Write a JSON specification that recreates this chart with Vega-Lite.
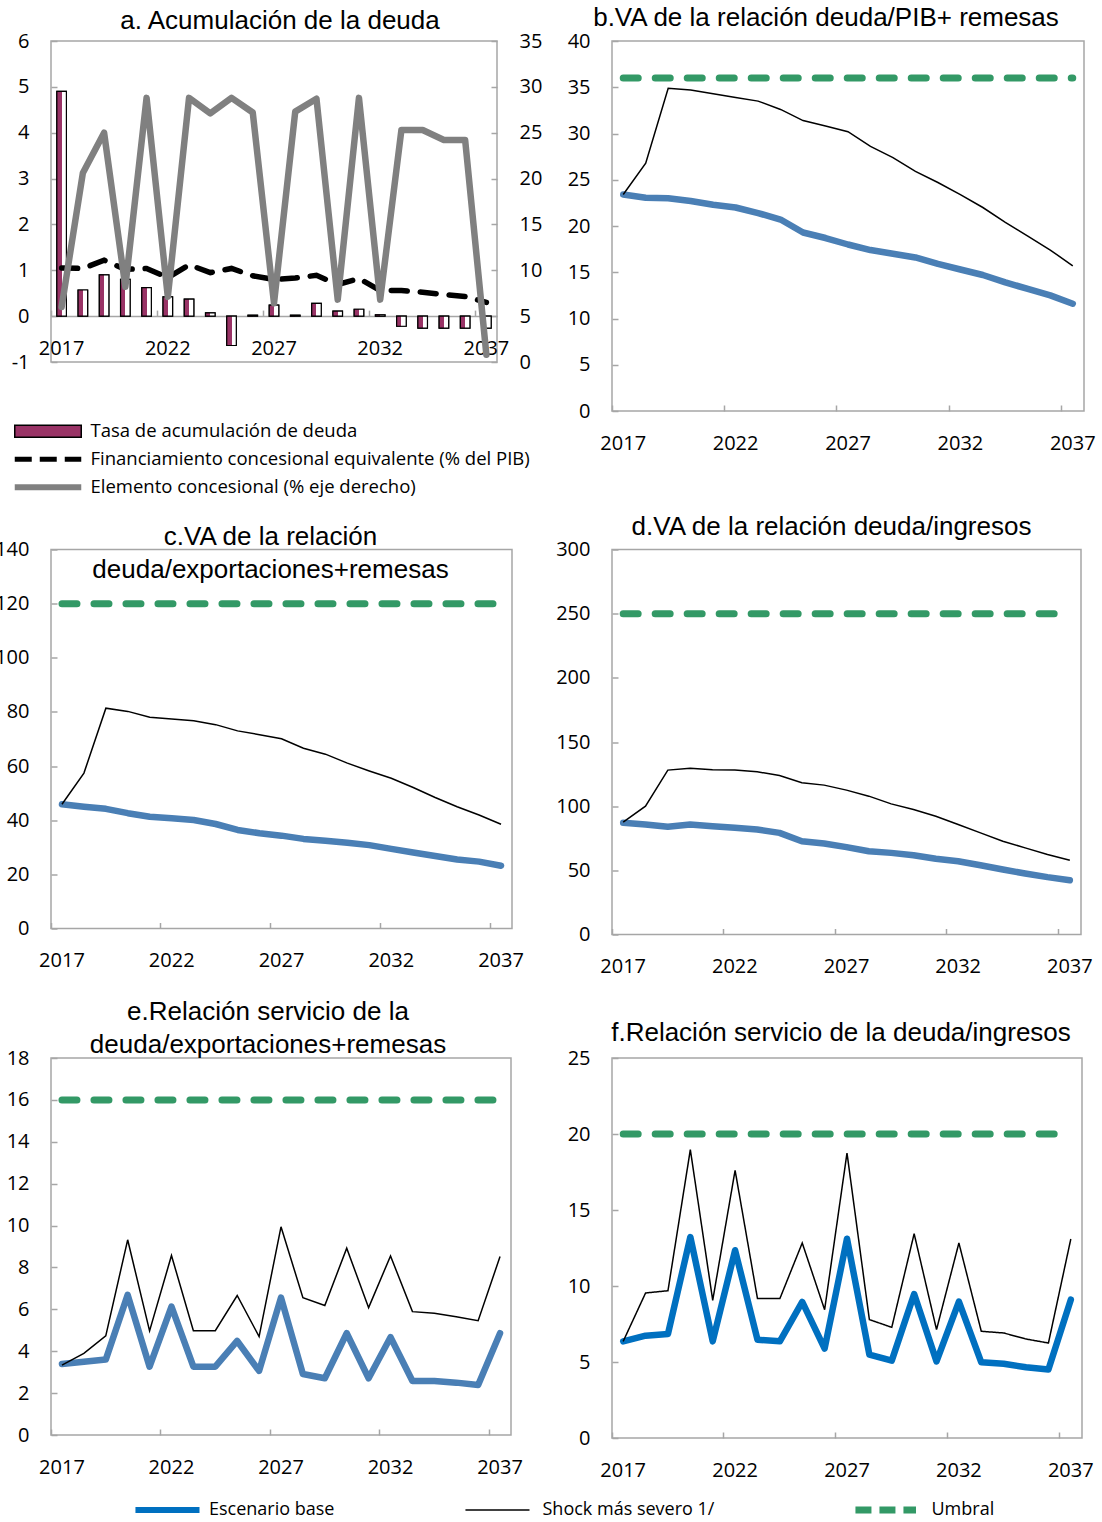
{
  "$schema": "https://vega.github.io/schema/vega-lite/v6.json",
  "background": "white",
  "padding": {"left": -7, "top": 4, "right": 0, "bottom": 0},
  "datasets": {
    "a": [
      {"year": "2017", "tasa": 4.9, "fin": 1.05, "elem": 6.0},
      {"year": "2018", "tasa": 0.57, "fin": 1.04, "elem": 20.6},
      {"year": "2019", "tasa": 0.9, "fin": 1.22, "elem": 25.0},
      {"year": "2020", "tasa": 0.8, "fin": 1.02, "elem": 8.2},
      {"year": "2021", "tasa": 0.62, "fin": 1.04, "elem": 28.8},
      {"year": "2022", "tasa": 0.42, "fin": 0.84, "elem": 7.1},
      {"year": "2023", "tasa": 0.37, "fin": 1.12, "elem": 28.8},
      {"year": "2024", "tasa": 0.07, "fin": 0.95, "elem": 27.1},
      {"year": "2025", "tasa": -0.64, "fin": 1.04, "elem": 28.8},
      {"year": "2026", "tasa": 0.02, "fin": 0.88, "elem": 27.2},
      {"year": "2027", "tasa": 0.24, "fin": 0.8, "elem": 6.4},
      {"year": "2028", "tasa": 0.02, "fin": 0.83, "elem": 27.3},
      {"year": "2029", "tasa": 0.28, "fin": 0.89, "elem": 28.7},
      {"year": "2030", "tasa": 0.11, "fin": 0.69, "elem": 6.8},
      {"year": "2031", "tasa": 0.15, "fin": 0.82, "elem": 28.8},
      {"year": "2032", "tasa": 0.03, "fin": 0.56, "elem": 6.8},
      {"year": "2033", "tasa": -0.22, "fin": 0.56, "elem": 25.3},
      {"year": "2034", "tasa": -0.26, "fin": 0.52, "elem": 25.3},
      {"year": "2035", "tasa": -0.26, "fin": 0.47, "elem": 24.2},
      {"year": "2036", "tasa": -0.26, "fin": 0.43, "elem": 24.2},
      {"year": "2037", "tasa": -0.26, "fin": 0.3, "elem": 0.8}
    ],
    "b": [
      {"year": "2017", "base": 23.4, "shock": 23.4, "umbral": 36},
      {"year": "2018", "base": 23.06, "shock": 26.8, "umbral": 36},
      {"year": "2019", "base": 23.0, "shock": 34.9, "umbral": 36},
      {"year": "2020", "base": 22.7, "shock": 34.7, "umbral": 36},
      {"year": "2021", "base": 22.3, "shock": 34.3, "umbral": 36},
      {"year": "2022", "base": 22.0, "shock": 33.9, "umbral": 36},
      {"year": "2023", "base": 21.4, "shock": 33.5, "umbral": 36},
      {"year": "2024", "base": 20.7, "shock": 32.6, "umbral": 36},
      {"year": "2025", "base": 19.3, "shock": 31.4, "umbral": 36},
      {"year": "2026", "base": 18.7, "shock": 30.8, "umbral": 36},
      {"year": "2027", "base": 18.0, "shock": 30.2, "umbral": 36},
      {"year": "2028", "base": 17.4, "shock": 28.6, "umbral": 36},
      {"year": "2029", "base": 17.0, "shock": 27.4, "umbral": 36},
      {"year": "2030", "base": 16.6, "shock": 25.9, "umbral": 36},
      {"year": "2031", "base": 15.9, "shock": 24.7, "umbral": 36},
      {"year": "2032", "base": 15.3, "shock": 23.4, "umbral": 36},
      {"year": "2033", "base": 14.7, "shock": 22.0, "umbral": 36},
      {"year": "2034", "base": 13.9, "shock": 20.4, "umbral": 36},
      {"year": "2035", "base": 13.2, "shock": 18.9, "umbral": 36},
      {"year": "2036", "base": 12.5, "shock": 17.4, "umbral": 36},
      {"year": "2037", "base": 11.6, "shock": 15.7, "umbral": 36}
    ],
    "c": [
      {"year": "2017", "base": 45.9, "shock": 45.9, "umbral": 120},
      {"year": "2018", "base": 45.0, "shock": 57.4, "umbral": 120},
      {"year": "2019", "base": 44.2, "shock": 81.4, "umbral": 120},
      {"year": "2020", "base": 42.6, "shock": 80.2, "umbral": 120},
      {"year": "2021", "base": 41.3, "shock": 78.0, "umbral": 120},
      {"year": "2022", "base": 40.7, "shock": 77.4, "umbral": 120},
      {"year": "2023", "base": 40.1, "shock": 76.7, "umbral": 120},
      {"year": "2024", "base": 38.6, "shock": 75.3, "umbral": 120},
      {"year": "2025", "base": 36.4, "shock": 73.0, "umbral": 120},
      {"year": "2026", "base": 35.2, "shock": 71.6, "umbral": 120},
      {"year": "2027", "base": 34.3, "shock": 70.1, "umbral": 120},
      {"year": "2028", "base": 33.1, "shock": 66.6, "umbral": 120},
      {"year": "2029", "base": 32.4, "shock": 64.4, "umbral": 120},
      {"year": "2030", "base": 31.7, "shock": 61.1, "umbral": 120},
      {"year": "2031", "base": 30.8, "shock": 58.2, "umbral": 120},
      {"year": "2032", "base": 29.4, "shock": 55.5, "umbral": 120},
      {"year": "2033", "base": 28.1, "shock": 52.1, "umbral": 120},
      {"year": "2034", "base": 26.8, "shock": 48.4, "umbral": 120},
      {"year": "2035", "base": 25.5, "shock": 45.0, "umbral": 120},
      {"year": "2036", "base": 24.7, "shock": 41.9, "umbral": 120},
      {"year": "2037", "base": 23.2, "shock": 38.5, "umbral": 120}
    ],
    "d": [
      {"year": "2017", "base": 87.0, "shock": 87.5, "umbral": 250},
      {"year": "2018", "base": 85.7, "shock": 100.0, "umbral": 250},
      {"year": "2019", "base": 83.9, "shock": 128.1, "umbral": 250},
      {"year": "2020", "base": 85.7, "shock": 129.6, "umbral": 250},
      {"year": "2021", "base": 84.4, "shock": 128.3, "umbral": 250},
      {"year": "2022", "base": 83.1, "shock": 128.1, "umbral": 250},
      {"year": "2023", "base": 81.8, "shock": 126.8, "umbral": 250},
      {"year": "2024", "base": 79.2, "shock": 123.9, "umbral": 250},
      {"year": "2025", "base": 72.7, "shock": 118.2, "umbral": 250},
      {"year": "2026", "base": 70.9, "shock": 116.4, "umbral": 250},
      {"year": "2027", "base": 68.1, "shock": 112.5, "umbral": 250},
      {"year": "2028", "base": 64.9, "shock": 107.8, "umbral": 250},
      {"year": "2029", "base": 63.6, "shock": 101.8, "umbral": 250},
      {"year": "2030", "base": 61.8, "shock": 97.4, "umbral": 250},
      {"year": "2031", "base": 59.0, "shock": 92.2, "umbral": 250},
      {"year": "2032", "base": 57.1, "shock": 85.7, "umbral": 250},
      {"year": "2033", "base": 54.0, "shock": 79.2, "umbral": 250},
      {"year": "2034", "base": 50.6, "shock": 72.7, "umbral": 250},
      {"year": "2035", "base": 47.5, "shock": 67.5, "umbral": 250},
      {"year": "2036", "base": 44.7, "shock": 62.3, "umbral": 250},
      {"year": "2037", "base": 42.3, "shock": 57.9, "umbral": 250}
    ],
    "e": [
      {"year": "2017", "base": 3.39, "shock": 3.34, "umbral": 16},
      {"year": "2018", "base": 3.5, "shock": 3.9, "umbral": 16},
      {"year": "2019", "base": 3.6, "shock": 4.73, "umbral": 16},
      {"year": "2020", "base": 6.69, "shock": 9.32, "umbral": 16},
      {"year": "2021", "base": 3.26, "shock": 4.97, "umbral": 16},
      {"year": "2022", "base": 6.13, "shock": 8.57, "umbral": 16},
      {"year": "2023", "base": 3.26, "shock": 4.98, "umbral": 16},
      {"year": "2024", "base": 3.26, "shock": 4.98, "umbral": 16},
      {"year": "2025", "base": 4.49, "shock": 6.66, "umbral": 16},
      {"year": "2026", "base": 3.06, "shock": 4.7, "umbral": 16},
      {"year": "2027", "base": 6.56, "shock": 9.94, "umbral": 16},
      {"year": "2028", "base": 2.91, "shock": 6.56, "umbral": 16},
      {"year": "2029", "base": 2.71, "shock": 6.18, "umbral": 16},
      {"year": "2030", "base": 4.86, "shock": 8.92, "umbral": 16},
      {"year": "2031", "base": 2.71, "shock": 6.08, "umbral": 16},
      {"year": "2032", "base": 4.67, "shock": 8.55, "umbral": 16},
      {"year": "2033", "base": 2.58, "shock": 5.89, "umbral": 16},
      {"year": "2034", "base": 2.58, "shock": 5.81, "umbral": 16},
      {"year": "2035", "base": 2.5, "shock": 5.65, "umbral": 16},
      {"year": "2036", "base": 2.39, "shock": 5.46, "umbral": 16},
      {"year": "2037", "base": 4.86, "shock": 8.52, "umbral": 16}
    ],
    "f": [
      {"year": "2017", "base": 6.36, "shock": 6.36, "umbral": 20},
      {"year": "2018", "base": 6.73, "shock": 9.54, "umbral": 20},
      {"year": "2019", "base": 6.84, "shock": 9.69, "umbral": 20},
      {"year": "2020", "base": 13.22, "shock": 18.97, "umbral": 20},
      {"year": "2021", "base": 6.36, "shock": 9.06, "umbral": 20},
      {"year": "2022", "base": 12.35, "shock": 17.61, "umbral": 20},
      {"year": "2023", "base": 6.47, "shock": 9.17, "umbral": 20},
      {"year": "2024", "base": 6.36, "shock": 9.17, "umbral": 20},
      {"year": "2025", "base": 8.95, "shock": 12.83, "umbral": 20},
      {"year": "2026", "base": 5.88, "shock": 8.44, "umbral": 20},
      {"year": "2027", "base": 13.11, "shock": 18.75, "umbral": 20},
      {"year": "2028", "base": 5.48, "shock": 7.79, "umbral": 20},
      {"year": "2029", "base": 5.09, "shock": 7.28, "umbral": 20},
      {"year": "2030", "base": 9.47, "shock": 13.44, "umbral": 20},
      {"year": "2031", "base": 5.04, "shock": 7.13, "umbral": 20},
      {"year": "2032", "base": 8.97, "shock": 12.83, "umbral": 20},
      {"year": "2033", "base": 4.98, "shock": 7.02, "umbral": 20},
      {"year": "2034", "base": 4.89, "shock": 6.91, "umbral": 20},
      {"year": "2035", "base": 4.65, "shock": 6.51, "umbral": 20},
      {"year": "2036", "base": 4.5, "shock": 6.25, "umbral": 20},
      {"year": "2037", "base": 9.1, "shock": 13.09, "umbral": 20}
    ]
  },
  "columns": 2,
  "bounds": "flush",
  "align": "all",
  "spacing": {"row": 123.5, "column": 89},
  "resolve": {
    "scale": {"color": "independent", "fill": "independent", "stroke": "independent", "strokeDash": "independent", "opacity": "independent"},
    "legend": {"color": "independent", "fill": "independent", "stroke": "independent", "strokeDash": "independent", "opacity": "independent"}
  },
  "concat": [
    {
      "width": 446, "height": 321,
      "data": {"name": "a"},
      "title": {"text": "a. Acumulación de la deuda", "dx": 6, "offset": -3},
      "encoding": {
        "x": {"field": "year", "type": "ordinal", "title": null,
          "scale": {"type": "band", "paddingInner": 0, "paddingOuter": 0.0001},
          "axis": {"values": ["2017", "2022", "2027", "2032", "2037"], "bandPosition": 0, "labelAngle": 0, "offset": -45.9, "domain": true, "domainColor": "#a6a6a6", "domainWidth": 1.5}}
      },
      "layer": [
        {
          "mark": {"type": "bar", "width": {"band": 0.45}, "stroke": "black", "strokeWidth": 1.2},
          "encoding": {
            "y": {"field": "tasa", "type": "quantitative", "title": null, "scale": {"domain": [-1, 6], "nice": false, "zero": false}, "axis": {"orient": "left", "values": [-1, 0, 1, 2, 3, 4, 5, 6], "labelExpr": "replace(datum.label, '−', '-')"}},
            "y2": {"datum": 0},
            "fill": {"datum": "Tasa de acumulación de deuda", "type": "nominal",
              "scale": {"range": ["#993366"]},
              "legend": {
                "orient": "none", "legendX": -42, "legendY": 381, "title": null,
                "symbolType": "M-1,-1.7H18V1.7H-1Z", "symbolSize": 49, "symbolStrokeColor": "#000000", "symbolStrokeWidth": 1.5,
                "labelFont": "Open Sans", "labelFontSize": 18.5, "labelColor": "#000000", "labelOffset": 63, "labelLimit": 700
              }
            }
          }
        },
        {
          "mark": {"type": "bar", "width": {"band": 0.45}, "stroke": "black", "strokeWidth": 1.2,
            "fill": {"gradient": "linear", "x1": 0, "y1": 0, "x2": 1, "y2": 0, "stops": [{"offset": 0, "color": "#993366"}, {"offset": 0.5, "color": "#993366"}, {"offset": 0.5, "color": "#ffffff"}, {"offset": 1, "color": "#ffffff"}]}},
          "encoding": {
            "y": {"field": "tasa", "type": "quantitative", "title": null, "scale": {"domain": [-1, 6], "nice": false, "zero": false}, "axis": null},
            "y2": {"datum": 0}
          }
        },
        {
          "mark": {"type": "line", "strokeWidth": 5.5, "strokeDash": [16, 13], "strokeCap": "round"},
          "encoding": {
            "y": {"field": "fin", "type": "quantitative", "title": null, "scale": {"domain": [-1, 6], "nice": false, "zero": false}, "axis": null},
            "stroke": {"datum": "Financiamiento concesional equivalente (% del PIB)", "type": "nominal",
              "scale": {"range": ["#000000"]},
              "legend": {
                "orient": "none", "legendX": -42, "legendY": 409, "title": null,
                "symbolType": "M-1,0H18", "symbolSize": 49, "symbolStrokeWidth": 5, "symbolDash": [17, 8],
                "labelFont": "Open Sans", "labelFontSize": 18.5, "labelColor": "#000000", "labelOffset": 63, "labelLimit": 700
              }
            }
          }
        },
        {
          "mark": {"type": "line", "stroke": "#808080", "strokeWidth": 6.5, "strokeJoin": "round", "strokeCap": "round"},
          "encoding": {
            "y": {"field": "elem", "type": "quantitative", "title": null, "scale": {"domain": [0, 35], "nice": false}, "axis": {"orient": "right", "values": [0, 5, 10, 15, 20, 25, 30, 35]}},
            "opacity": {"datum": "Elemento concesional (% eje derecho)", "type": "ordinal",
              "scale": {"range": [1]},
              "legend": {
                "orient": "none", "legendX": -42, "legendY": 437, "title": null,
                "symbolType": "M-1,0H18", "symbolSize": 49, "symbolStrokeColor": "#808080", "symbolStrokeWidth": 6,
                "labelFont": "Open Sans", "labelFontSize": 18.5, "labelColor": "#000000", "labelOffset": 63, "labelLimit": 700
              }
            }
          }
        }
      ],
      "resolve": {"scale": {"y": "independent"}}
    },
    {
      "width": 472, "height": 370,
      "data": {"name": "b"},
      "title": {"text": "b.VA de la relación  deuda/PIB+  remesas", "dx": -22, "offset": 0},
      "encoding": {
        "x": {"field": "year", "type": "ordinal", "title": null,
          "scale": {"type": "band", "paddingInner": 0, "paddingOuter": 0.0001},
          "axis": {"values": ["2017", "2022", "2027", "2032", "2037"], "bandPosition": 0, "labelAngle": 0}}
      },
      "layer": [
        {"mark": {"type": "line", "color": "#339966", "strokeWidth": 7, "strokeDash": [15, 17], "strokeCap": "round"},
         "encoding": {"y": {"field": "umbral", "type": "quantitative", "title": null, "scale": {"domain": [0, 40], "nice": false}, "axis": {"values": [0, 5, 10, 15, 20, 25, 30, 35, 40]}}}},
        {"mark": {"type": "line", "color": "#4a7fb5", "strokeWidth": 6.5, "strokeJoin": "round", "strokeCap": "round"},
         "encoding": {"y": {"field": "base", "type": "quantitative", "title": null, "scale": {"domain": [0, 40], "nice": false}, "axis": {"values": [0, 5, 10, 15, 20, 25, 30, 35, 40]}}}},
        {"mark": {"type": "line", "color": "#000000", "strokeWidth": 1.5},
         "encoding": {"y": {"field": "shock", "type": "quantitative", "title": null, "scale": {"domain": [0, 40], "nice": false}, "axis": {"values": [0, 5, 10, 15, 20, 25, 30, 35, 40]}}}}
      ]
    },
    {
      "width": 461, "height": 379,
      "data": {"name": "c"},
      "title": {"text": ["c.VA de la relación", "deuda/exportaciones+remesas"], "dx": -11, "offset": -43, "lineHeight": 33},
      "encoding": {
        "x": {"field": "year", "type": "ordinal", "title": null,
          "scale": {"type": "band", "paddingInner": 0, "paddingOuter": 0.0001},
          "axis": {"values": ["2017", "2022", "2027", "2032", "2037"], "bandPosition": 0, "labelAngle": 0}}
      },
      "layer": [
        {"mark": {"type": "line", "color": "#339966", "strokeWidth": 7, "strokeDash": [15, 17], "strokeCap": "round"},
         "encoding": {"y": {"field": "umbral", "type": "quantitative", "title": null, "scale": {"domain": [0, 140], "nice": false}, "axis": {"values": [0, 20, 40, 60, 80, 100, 120, 140]}}}},
        {"mark": {"type": "line", "color": "#4a7fb5", "strokeWidth": 6.5, "strokeJoin": "round", "strokeCap": "round"},
         "encoding": {"y": {"field": "base", "type": "quantitative", "title": null, "scale": {"domain": [0, 140], "nice": false}, "axis": {"values": [0, 20, 40, 60, 80, 100, 120, 140]}}}},
        {"mark": {"type": "line", "color": "#000000", "strokeWidth": 1.5},
         "encoding": {"y": {"field": "shock", "type": "quantitative", "title": null, "scale": {"domain": [0, 140], "nice": false}, "axis": {"values": [0, 20, 40, 60, 80, 100, 120, 140]}}}}
      ]
    },
    {
      "width": 469, "height": 385,
      "data": {"name": "d"},
      "title": {"text": "d.VA de la relación  deuda/ingresos", "dx": -15, "offset": 0},
      "encoding": {
        "x": {"field": "year", "type": "ordinal", "title": null,
          "scale": {"type": "band", "paddingInner": 0, "paddingOuter": 0.0001},
          "axis": {"values": ["2017", "2022", "2027", "2032", "2037"], "bandPosition": 0, "labelAngle": 0}}
      },
      "layer": [
        {"mark": {"type": "line", "color": "#339966", "strokeWidth": 7, "strokeDash": [15, 17], "strokeCap": "round"},
         "encoding": {"y": {"field": "umbral", "type": "quantitative", "title": null, "scale": {"domain": [0, 300], "nice": false}, "axis": {"values": [0, 50, 100, 150, 200, 250, 300]}}}},
        {"mark": {"type": "line", "color": "#4a7fb5", "strokeWidth": 6.5, "strokeJoin": "round", "strokeCap": "round"},
         "encoding": {"y": {"field": "base", "type": "quantitative", "title": null, "scale": {"domain": [0, 300], "nice": false}, "axis": {"values": [0, 50, 100, 150, 200, 250, 300]}}}},
        {"mark": {"type": "line", "color": "#000000", "strokeWidth": 1.5},
         "encoding": {"y": {"field": "shock", "type": "quantitative", "title": null, "scale": {"domain": [0, 300], "nice": false}, "axis": {"values": [0, 50, 100, 150, 200, 250, 300]}}}}
      ]
    },
    {
      "width": 460, "height": 377,
      "data": {"name": "e"},
      "title": {"text": ["e.Relación  servicio  de la", "deuda/exportaciones+remesas"], "dx": -13, "offset": -9.5, "lineHeight": 33},
      "encoding": {
        "x": {"field": "year", "type": "ordinal", "title": null,
          "scale": {"type": "band", "paddingInner": 0, "paddingOuter": 0.0001},
          "axis": {"values": ["2017", "2022", "2027", "2032", "2037"], "bandPosition": 0, "labelAngle": 0}}
      },
      "layer": [
        {"mark": {"type": "line", "color": "#339966", "strokeWidth": 7, "strokeDash": [15, 17], "strokeCap": "round"},
         "encoding": {"y": {"field": "umbral", "type": "quantitative", "title": null, "scale": {"domain": [0, 18], "nice": false}, "axis": {"values": [0, 2, 4, 6, 8, 10, 12, 14, 16, 18]}}}},
        {"mark": {"type": "line", "color": "#4a7fb5", "strokeWidth": 6.5, "strokeJoin": "round", "strokeCap": "round"},
         "encoding": {"y": {"field": "base", "type": "quantitative", "title": null, "scale": {"domain": [0, 18], "nice": false}, "axis": {"values": [0, 2, 4, 6, 8, 10, 12, 14, 16, 18]}}}},
        {"mark": {"type": "line", "color": "#000000", "strokeWidth": 1.5},
         "encoding": {"y": {"field": "shock", "type": "quantitative", "title": null, "scale": {"domain": [0, 18], "nice": false}, "axis": {"values": [0, 2, 4, 6, 8, 10, 12, 14, 16, 18]}}}}
      ]
    },
    {
      "width": 470, "height": 380,
      "data": {"name": "f"},
      "title": {"text": "f.Relación  servicio  de la deuda/ingresos", "dx": -6, "offset": 2.5},
      "encoding": {
        "x": {"field": "year", "type": "ordinal", "title": null,
          "scale": {"type": "band", "paddingInner": 0, "paddingOuter": 0.0001},
          "axis": {"values": ["2017", "2022", "2027", "2032", "2037"], "bandPosition": 0, "labelAngle": 0}}
      },
      "layer": [
        {"mark": {"type": "line", "color": "#339966", "strokeWidth": 7, "strokeDash": [15, 17], "strokeCap": "round"},
         "encoding": {
           "y": {"field": "umbral", "type": "quantitative", "title": null, "scale": {"domain": [0, 25], "nice": false}, "axis": {"values": [0, 5, 10, 15, 20, 25]}},
           "opacity": {"datum": "Umbral", "type": "ordinal",
             "scale": {"range": [1]},
             "legend": {
               "orient": "none", "legendX": 235.5, "legendY": 443, "title": null,
               "symbolType": "M-0.3,0H17", "symbolSize": 49, "symbolStrokeColor": "#339966", "symbolStrokeWidth": 7, "symbolDash": [16, 8],
               "labelFont": "Open Sans", "labelFontSize": 18, "labelColor": "#000000", "labelOffset": 66, "labelLimit": 700
             }
           }
         }},
        {"mark": {"type": "line", "strokeWidth": 6.5, "strokeJoin": "round", "strokeCap": "round"},
         "encoding": {
           "y": {"field": "base", "type": "quantitative", "title": null, "scale": {"domain": [0, 25], "nice": false}, "axis": {"values": [0, 5, 10, 15, 20, 25]}},
           "stroke": {"datum": "Escenario base", "type": "nominal",
             "scale": {"range": ["#0070c0"]},
             "legend": {
               "orient": "none", "legendX": -484.5, "legendY": 443, "title": null,
               "symbolType": "M-0.3,0H18", "symbolSize": 49, "symbolStrokeWidth": 6,
               "labelFont": "Open Sans", "labelFontSize": 18, "labelColor": "#000000", "labelOffset": 63.5, "labelLimit": 700
             }
           }
         }},
        {"mark": {"type": "line", "color": "#000000", "strokeWidth": 1.5},
         "encoding": {
           "y": {"field": "shock", "type": "quantitative", "title": null, "scale": {"domain": [0, 25], "nice": false}, "axis": {"values": [0, 5, 10, 15, 20, 25]}},
           "strokeDash": {"datum": "Shock más severo 1/", "type": "nominal",
             "scale": {"range": [[1, 0]]},
             "legend": {
               "orient": "none", "legendX": -154.5, "legendY": 443, "title": null,
               "symbolType": "M-0.3,0H18", "symbolSize": 49, "symbolStrokeColor": "#000000", "symbolStrokeWidth": 1.5,
               "labelFont": "Open Sans", "labelFontSize": 18, "labelColor": "#000000", "labelOffset": 67, "labelLimit": 700
             }
           }
         }}
      ]
    }
  ],
  "config": {
    "view": {"stroke": "#a6a6a6", "strokeWidth": 1.5},
    "axis": {
      "labelFont": "Open Sans", "labelFontSize": 20, "labelColor": "#000000",
      "domain": false, "grid": false,
      "tickColor": "#a6a6a6", "tickWidth": 1.5, "tickSize": -6,
      "labelPadding": 28, "labelOverlap": false, "labelFlush": false
    },
    "title": {
      "font": "Liberation Sans", "fontSize": 26, "fontWeight": "normal", "color": "#000000",
      "anchor": "middle", "frame": "group", "baseline": "bottom"
    },
    "legend": {"labelFont": "Open Sans", "labelFontSize": 17, "labelColor": "#000000"}
  }
}
